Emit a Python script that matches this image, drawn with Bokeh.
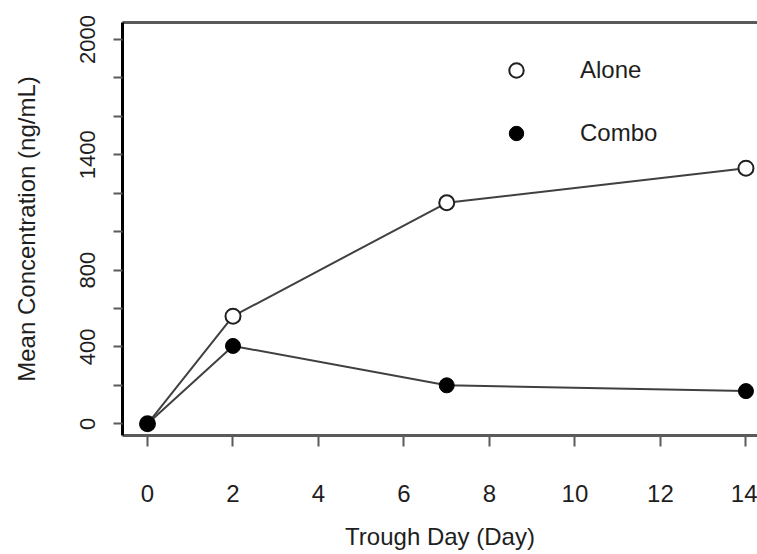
from bokeh.plotting import figure
from bokeh.models import (FixedTicker, LinearAxis, Legend, LegendItem, Range1d)
from bokeh.embed import file_html
from bokeh.resources import INLINE

# Trough concentrations by study day
days = [0, 2, 7, 14]
alone = [0, 560, 1150, 1330]
combo = [0, 405, 200, 170]

x_ticks = [0, 2, 4, 6, 8, 10, 12, 14]
y_ticks = [0, 200, 400, 600, 800, 1000, 1200, 1400, 1600, 1800, 2000]
y_labelled = [0, 400, 800, 1400, 2000]

FONT = "Liberation Sans"
TEXT = "#1e1e1e"
AXIS_GREY = "#5a5a5a"
LINE = "#404040"

p = figure(width=757, height=554, output_backend="svg", toolbar_location=None,
           x_range=Range1d(-0.585, 14.27), y_range=Range1d(-61, 2088),
           min_border_left=122, min_border_right=0, min_border_top=22,
           min_border_bottom=119, x_axis_location="below")
p.xgrid.grid_line_color = None
p.ygrid.grid_line_color = None
p.outline_line_color = None
p.background_fill_color = "white"
p.border_fill_color = "white"

# Bottom axis
xa = p.xaxis[0]
xa.ticker = FixedTicker(ticks=x_ticks)
xa.axis_label = "Trough Day (Day)"
xa.axis_line_color = AXIS_GREY
xa.axis_line_width = 3
xa.major_tick_line_color = AXIS_GREY
xa.major_tick_line_width = 2
xa.major_tick_out = 11
xa.major_tick_in = 0
xa.minor_tick_line_color = None
xa.major_label_text_font = FONT
xa.major_label_text_font_size = "24px"
xa.major_label_text_color = TEXT
xa.major_label_standoff = 38
xa.axis_label_text_font = FONT
xa.axis_label_text_font_size = "24px"
xa.axis_label_text_font_style = "normal"
xa.axis_label_text_color = TEXT
xa.axis_label_standoff = 18

# Left axis: every 200 ticked, only some values labelled
ya = p.yaxis[0]
ya.ticker = FixedTicker(ticks=y_ticks)
ya.major_label_overrides = {t: ("" if t not in y_labelled else str(t)) for t in y_ticks}
ya.major_label_orientation = "vertical"
ya.axis_label = "Mean Concentration (ng/mL)"
ya.axis_line_color = "black"
ya.axis_line_width = 3
ya.major_tick_line_color = AXIS_GREY
ya.major_tick_line_width = 2
ya.major_tick_out = 9
ya.major_tick_in = 0
ya.minor_tick_line_color = None
ya.major_label_text_font = FONT
ya.major_label_text_font_size = "22px"
ya.major_label_text_color = TEXT
ya.major_label_standoff = 18
ya.axis_label_text_font = FONT
ya.axis_label_text_font_size = "24px"
ya.axis_label_text_font_style = "normal"
ya.axis_label_text_color = TEXT
ya.axis_label_standoff = 38

# Top border of the box
top = LinearAxis(ticker=FixedTicker(ticks=[]), axis_line_color=AXIS_GREY,
                 axis_line_width=3, major_tick_out=0, major_tick_in=0,
                 minor_tick_out=0, minor_tick_in=0, major_label_standoff=0)
p.add_layout(top, "above")

# Series
p.line(days, alone, line_color=LINE, line_width=2)
p.line(days, combo, line_color=LINE, line_width=2)
r_alone = p.scatter(days, alone, size=15, marker="circle", fill_color="white",
                    line_color="#202020", line_width=2)
r_combo = p.scatter(days, combo, size=15, marker="circle", fill_color="black",
                    line_color="black", line_width=1)

legend = Legend(items=[LegendItem(label="Alone", renderers=[r_alone]),
                       LegendItem(label="Combo", renderers=[r_combo])],
                location=(376, 284), border_line_color=None,
                background_fill_alpha=0, padding=0, margin=0,
                glyph_width=36, glyph_height=36, label_height=36,
                label_standoff=46, spacing=27,
                label_text_font=FONT, label_text_font_size="24px",
                label_text_color=TEXT)
p.add_layout(legend, "center")

open("out.html", "w").write(file_html(p, INLINE))
